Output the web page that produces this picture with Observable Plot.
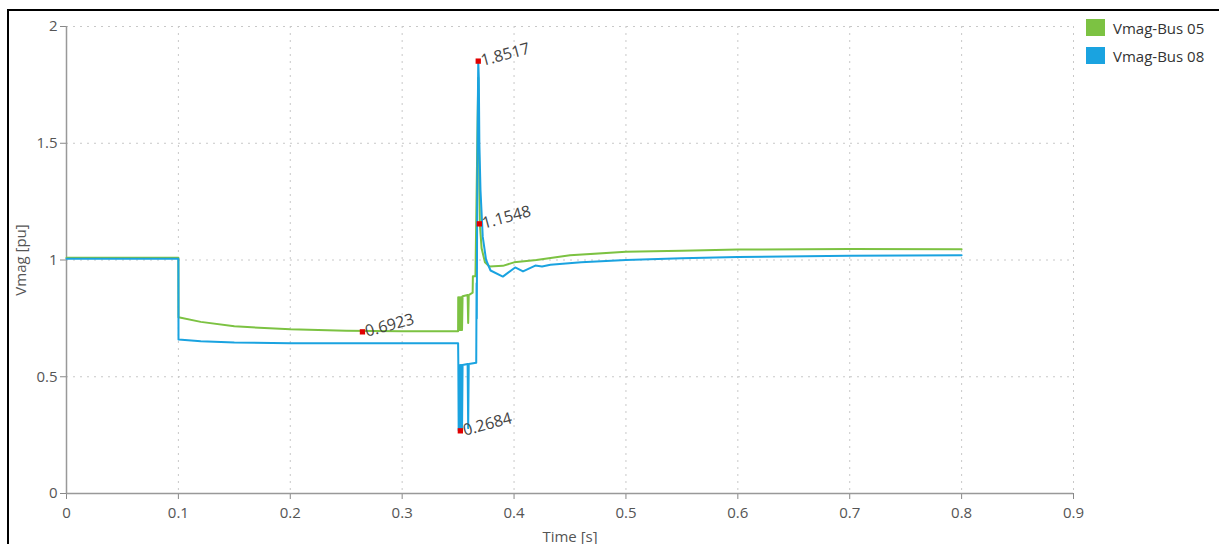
<!DOCTYPE html>
<html>
<head>
<meta charset="utf-8">
<script src="https://cdn.jsdelivr.net/npm/d3@7"></script>
<script src="https://cdn.jsdelivr.net/npm/@observablehq/plot@0.6"></script>
<style>
  html, body { margin: 0; padding: 0; background: #fff; }
  #wrap { position: relative; width: 1219px; height: 544px; overflow: hidden; font-family: "Open Sans", "Noto Sans", sans-serif; }
  #frame { position: absolute; left: 7px; top: 9px; width: 1300px; height: 600px; border-left: 2px solid #000; border-top: 2px solid #000; pointer-events: none; }
  #legend { position: absolute; left: 1086px; top: 15px; font-size: 15px; color: #333; }
  #legend .item { display: flex; align-items: center; height: 25px; margin-bottom: 3px; }
  #legend .sw { width: 19px; height: 17px; margin-right: 8px; }
</style>
</head>
<body>
<div id="wrap">
  <div id="chart"></div>
  <div id="frame"></div>
  <div id="legend"></div>
</div>
<script>
// Series names and colours
const seriesNames = ["Vmag-Bus 05", "Vmag-Bus 08"];
const seriesColors = ["#7cc242", "#1aa3e0"];

// Vmag-Bus 05 (green)
const bus05Time = [0, 0.1, 0.1001, 0.12, 0.15, 0.2, 0.25, 0.3, 0.35,
  0.3501, 0.3505, 0.351, 0.3515, 0.352, 0.3525, 0.353, 0.3535, 0.354,
  0.3585, 0.359, 0.3595, 0.363, 0.3632, 0.3655, 0.367, 0.368, 0.3685, 0.369, 0.3695,
  0.371, 0.374, 0.378, 0.39, 0.4, 0.42, 0.45, 0.5, 0.55, 0.6, 0.7, 0.8];
const bus05Value = [1.01, 1.01, 0.755, 0.735, 0.716, 0.703, 0.697, 0.695, 0.695,
  0.84, 0.70, 0.84, 0.70, 0.84, 0.70, 0.84, 0.70, 0.845,
  0.85, 0.73, 0.85, 0.86, 0.93, 0.93, 1.45, 1.78, 1.55, 1.3, 1.15,
  1.05, 0.99, 0.972, 0.975, 0.99, 1.0, 1.02, 1.035, 1.04, 1.045, 1.047, 1.046];

// Vmag-Bus 08 (blue)
const bus08Time = [0, 0.1, 0.1001, 0.12, 0.15, 0.2, 0.3, 0.35,
  0.3502, 0.3505, 0.351, 0.3515, 0.352, 0.3525, 0.353, 0.3535, 0.354,
  0.3585, 0.359, 0.3595, 0.3662, 0.3665, 0.3667, 0.367, 0.3675, 0.368, 0.3685, 0.369,
  0.370, 0.372, 0.375, 0.379, 0.39, 0.401, 0.408, 0.419, 0.425, 0.4325,
  0.46, 0.5, 0.55, 0.6, 0.7, 0.8];
const bus08Value = [1.005, 1.005, 0.66, 0.652, 0.647, 0.644, 0.643, 0.643,
  0.55, 0.27, 0.55, 0.27, 0.55, 0.2684, 0.55, 0.27, 0.55,
  0.555, 0.28, 0.555, 0.56, 0.9, 0.75, 1.2, 1.6, 1.8517, 1.78, 1.5,
  1.3, 1.1, 1.0, 0.955, 0.929, 0.968, 0.951, 0.976, 0.972, 0.98,
  0.99, 1.0, 1.008, 1.013, 1.018, 1.02];

// Annotated points
const markTime = [0.2645, 0.352, 0.368, 0.369];
const markValue = [0.6923, 0.2684, 1.8517, 1.1548];
const markLabel = ["0.6923", "0.2684", "1.8517", "1.1548"];

// Ticks
const xTicks = [0, 0.1, 0.2, 0.3, 0.4, 0.5, 0.6, 0.7, 0.8, 0.9];
const yTicks = [0, 0.5, 1, 1.5, 2];

const lineData = [
  ...bus05Time.map((t, i) => ({t, v: bus05Value[i], s: seriesNames[0]})),
  ...bus08Time.map((t, i) => ({t, v: bus08Value[i], s: seriesNames[1]}))
];
const marks = markTime.map((t, i) => ({t, v: markValue[i], label: markLabel[i]}));

const plot = Plot.plot({
  width: 1219,
  height: 544,
  marginLeft: 66,
  marginRight: 146,
  marginTop: 26,
  marginBottom: 51,
  style: {fontFamily: '"Open Sans", "Noto Sans", sans-serif', fontSize: "15px", color: "#555", background: "transparent"},
  x: {domain: [0, 0.9], ticks: xTicks, label: "Time [s]"},
  y: {domain: [0, 2], ticks: yTicks, label: "Vmag [pu]"},
  color: {domain: seriesNames, range: seriesColors},
  marks: [
    Plot.gridX(xTicks.filter(d => d > 0), {stroke: "#c8c8c8", strokeOpacity: 1, strokeDasharray: "2,5"}),
    Plot.gridY(yTicks.filter(d => d > 0), {stroke: "#c8c8c8", strokeOpacity: 1, strokeDasharray: "2,5"}),
    Plot.axisX({ticks: xTicks, tickSize: 6, tickPadding: 8, tickFormat: d => String(d), stroke: "#888",
      label: "Time [s]", labelAnchor: "center", labelArrow: "none", labelOffset: 48, fill: "#555", fontSize: 15}),
    Plot.axisY({ticks: yTicks, tickSize: 6, tickPadding: 3, tickFormat: d => String(d), stroke: "#888",
      label: "Vmag [pu]", labelAnchor: "center", labelArrow: "none", labelOffset: 51, fill: "#555", fontSize: 15}),
    Plot.ruleX([0], {stroke: "#999", strokeWidth: 1.5}),
    Plot.ruleY([0], {stroke: "#999", strokeWidth: 1.5}),
    Plot.line(lineData, {x: "t", y: "v", z: "s", stroke: "s", strokeWidth: 2}),
    Plot.dot(marks, {x: "t", y: "v", symbol: "square", r: 3, fill: "#e00000", stroke: "none"}),
    Plot.text(marks, {x: "t", y: "v", text: "label", rotate: -15, textAnchor: "start", dx: 3, dy: 0,
      fill: "#444", fontSize: 16})
  ]
});
document.getElementById("chart").appendChild(plot);

const legend = document.getElementById("legend");
seriesNames.forEach((name, i) => {
  const item = document.createElement("div");
  item.className = "item";
  const sw = document.createElement("div");
  sw.className = "sw";
  sw.style.background = seriesColors[i];
  const lab = document.createElement("span");
  lab.textContent = name;
  item.appendChild(sw);
  item.appendChild(lab);
  legend.appendChild(item);
});
</script>
</body>
</html>
